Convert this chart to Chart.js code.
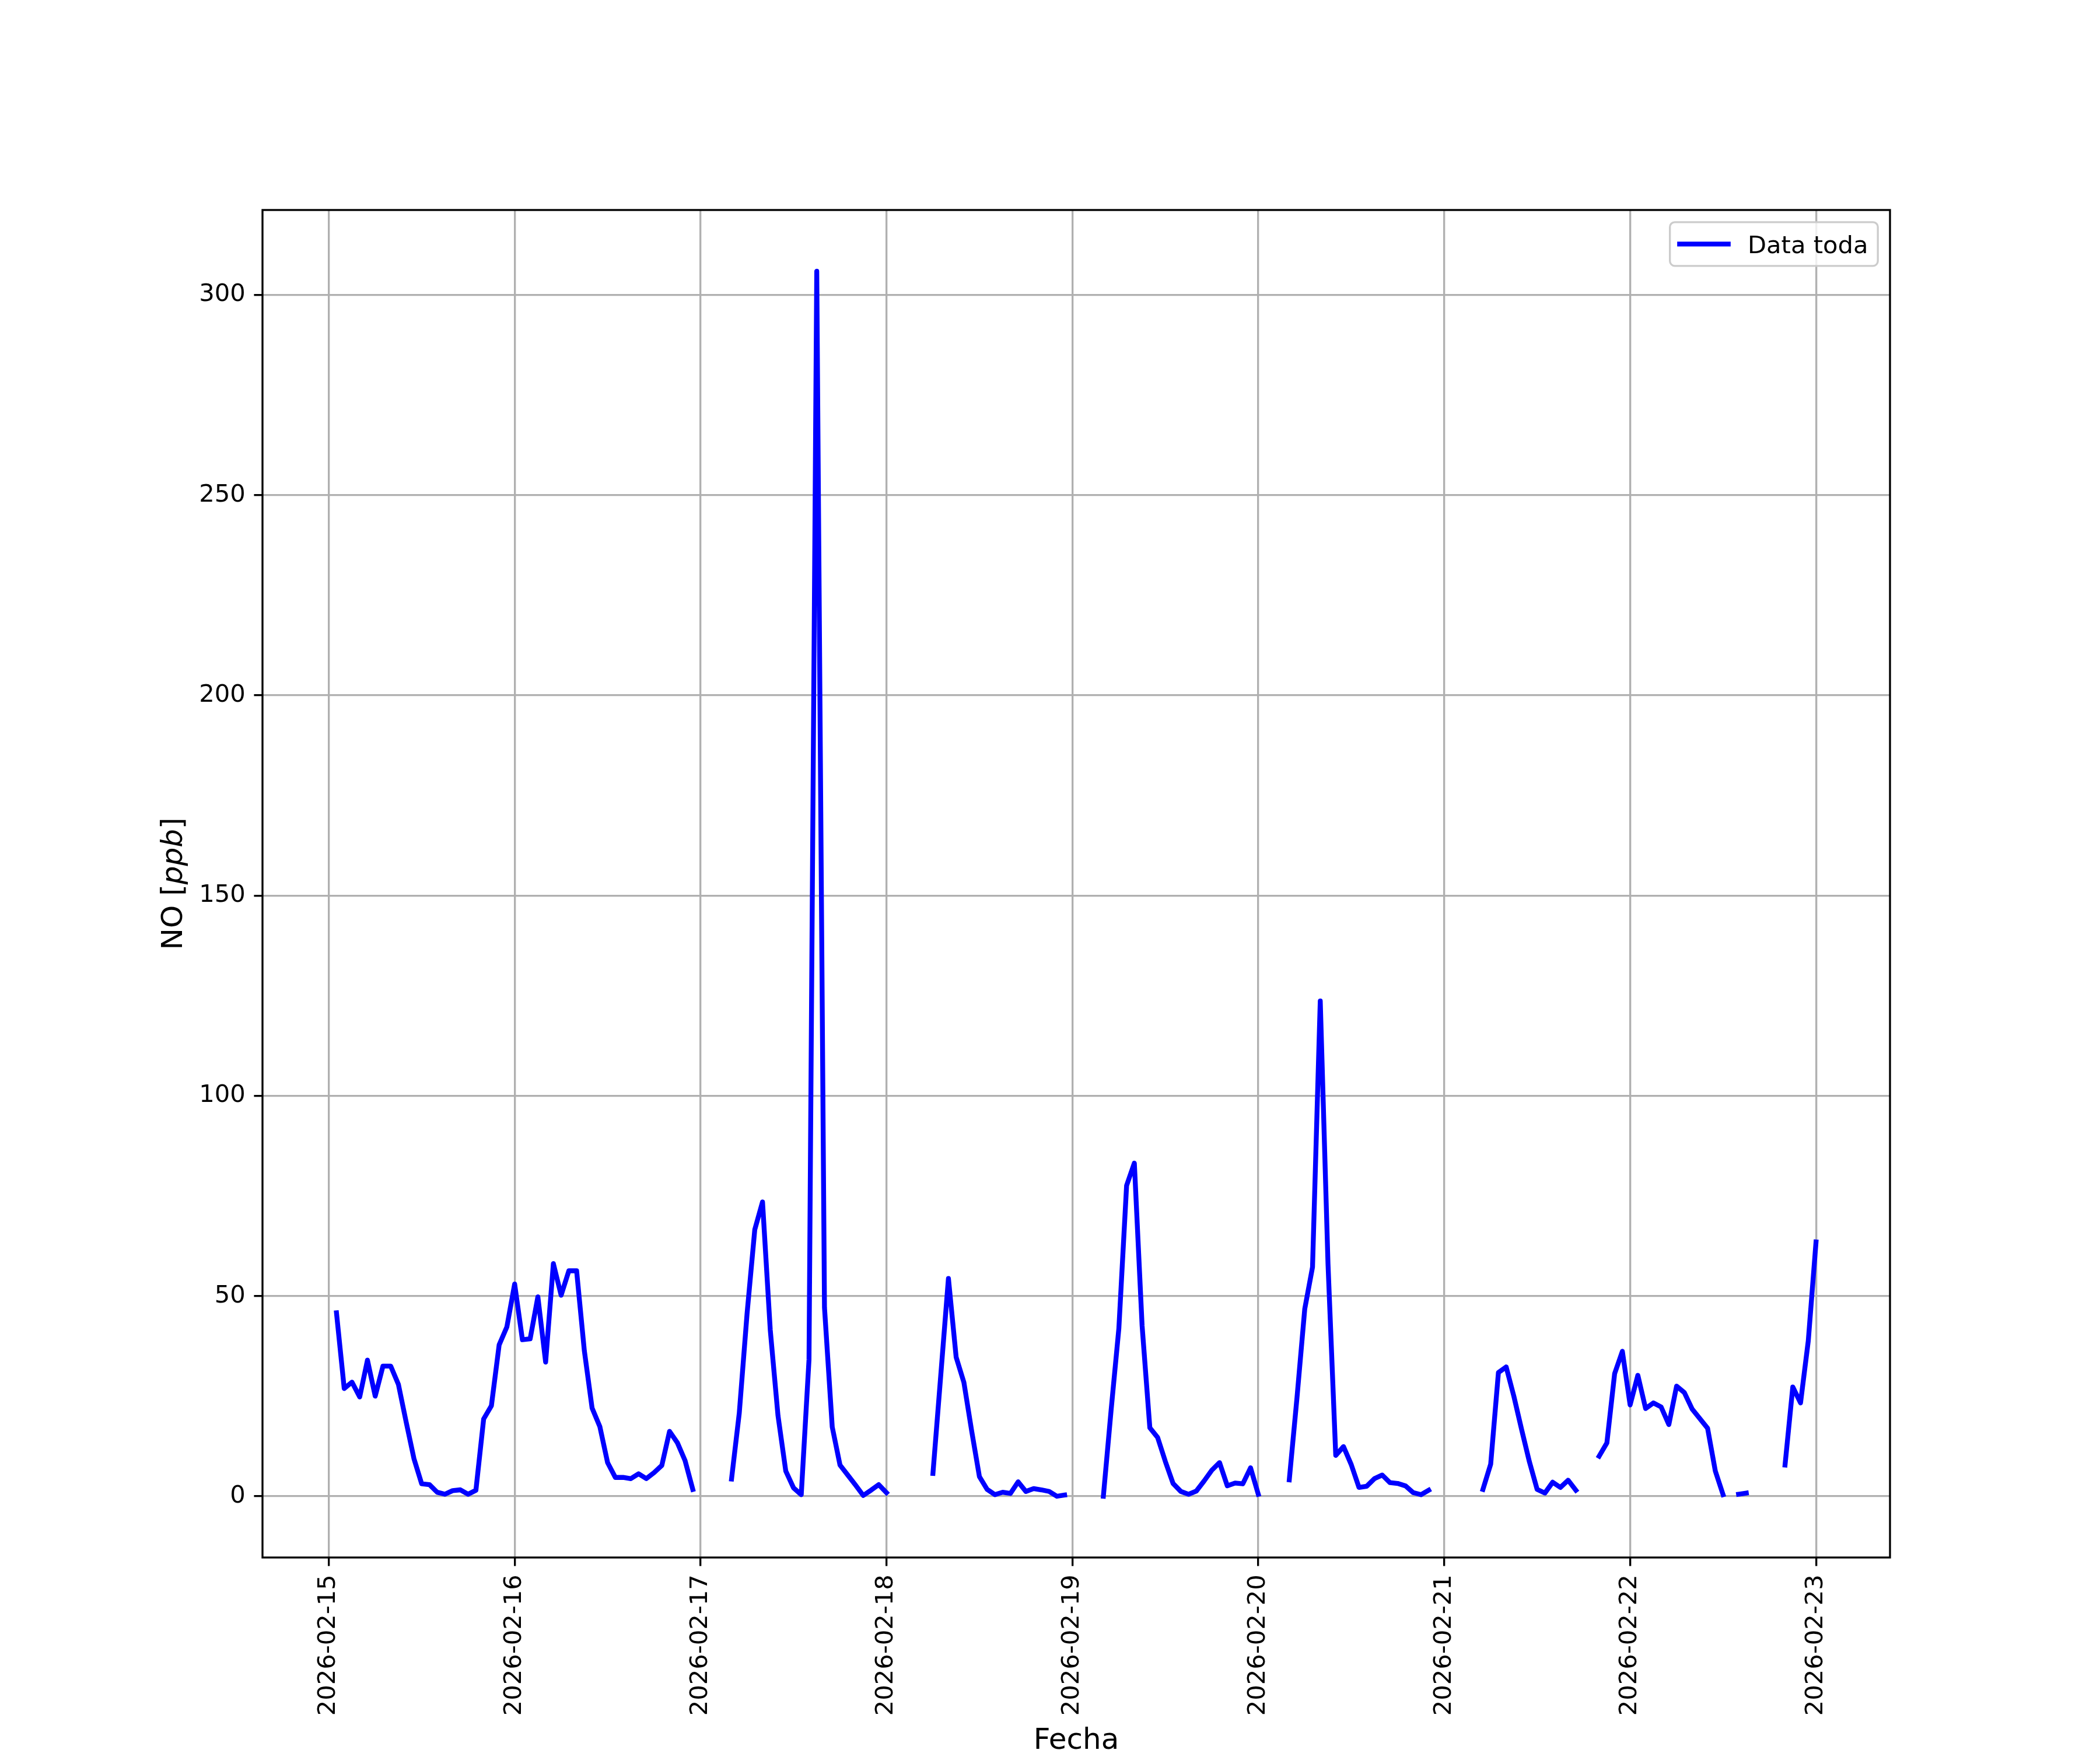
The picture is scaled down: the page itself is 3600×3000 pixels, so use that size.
<!DOCTYPE html>
<html>
<head>
<meta charset="utf-8">
<title>NO [ppb]</title>
<script src="https://cdn.jsdelivr.net/npm/chart.js@4.4.1/dist/chart.umd.min.js"></script>
<style>
  html, body { margin: 0; padding: 0; background: #fff; }
  canvas { display: block; }
</style>
</head>
<body>
<canvas id="chart" width="3600" height="3000"></canvas>
<script>
// tick labels, one per day (midnight)
const dayLabels = ['2026-02-15', '2026-02-16', '2026-02-17', '2026-02-18', '2026-02-19',
                   '2026-02-20', '2026-02-21', '2026-02-22', '2026-02-23'];

// hourly NO values (ppb), 00:00 .. 23:00 each day, null = no data
const day15 = [null, 45.8, 26.9, 28.5, 24.8, 34.0, 25.0, 32.5, 32.5, 27.9, 18.5, 9.4,
               3.1, 2.9, 1.0, 0.5, 1.4, 1.6, 0.5, 1.5, 19.3, 22.6, 37.8, 42.3];
const day16 = [53.0, 39.1, 39.3, 49.8, 33.5, 58.1, 50.2, 56.3, 56.3, 36.3, 22.0, 17.4,
               8.4, 4.7, 4.7, 4.4, 5.6, 4.4, 5.9, 7.7, 16.2, 13.4, 8.9, 1.7];
const day17 = [null, null, null, null, 4.3, 20.8, 45.5, 66.6, 73.5, 41.5, 20.1, 6.3,
               2.1, 0.4, 34.1, 305.9, 47.1, 17.3, 7.8, 5.3, 2.8, 0.2, 1.5, 2.9];
const day18 = [0.9, null, null, null, null, null, 5.7, 30.0, 54.4, 34.7, 28.4, 16.3,
               4.9, 1.7, 0.4, 1.0, 0.7, 3.6, 1.2, 1.9, 1.6, 1.2, 0.0, 0.3];
const day19 = [null, null, null, null, 0.0, 21.5, 41.9, 77.6, 83.2, 42.6, 17.1, 14.7,
               8.7, 3.2, 1.2, 0.5, 1.3, 3.8, 6.5, 8.4, 2.6, 3.3, 3.1, 7.1];
const day20 = [0.5, null, null, null, 4.1, 24.7, 46.8, 57.2, 123.7, 58.0, 10.2, 12.4,
               7.9, 2.2, 2.5, 4.4, 5.3, 3.4, 3.2, 2.6, 0.9, 0.4, 1.5, null];
const day21 = [null, null, null, null, null, 1.7, 8.0, 30.9, 32.3, 24.9, 16.6, 8.6,
               1.7, 0.8, 3.5, 2.2, 4.0, 1.5, null, null, 10.0, 13.3, 30.6, 36.2];
const day22 = [22.8, 30.2, 21.9, 23.3, 22.3, 17.9, 27.5, 25.9, 21.8, 19.4, 17.0, 6.3,
               0.4, null, 0.5, 0.8, null, null, null, null, 7.8, 27.3, 23.3, 38.8];
const day23 = [63.5];

const yTicks = [0, 50, 100, 150, 200, 250, 300];
const seriesLabel = 'Data toda';

const PT = 300 / 72;
const FONT = "'DejaVu Sans', 'Liberation Sans', sans-serif";
const BLUE = '#0000ff';
const LINE_W = 2 * PT;

// x = hours since 2026-02-15 00:00
const hourly = [].concat(day15, day16, day17, day18, day19, day20, day21, day22, day23);
const points = hourly.map((v, i) => ({ x: i, y: v }));
const dayTicks = dayLabels.map((_, i) => i * 24);

// matplotlib style autoscale: data extent plus 5% each side
function margins(vals) {
  const lo = Math.min(...vals), hi = Math.max(...vals), m = (hi - lo) * 0.05;
  return [lo - m, hi + m];
}
const valid = points.filter(p => p.y !== null);
const [xMin, xMax] = margins(valid.map(p => p.x));
const [yMin, yMax] = margins(valid.map(p => p.y));

const gridOpts = {
  color: '#b0b0b0',
  lineWidth: 0.8 * PT,
  tickLength: 3.5 * PT,
  tickColor: '#000',
  tickWidth: 0.8 * PT
};
const tickFont = { family: FONT, size: 10 * PT };

// frame, legend box and y label (with italic unit) drawn over the plot
const decor = {
  id: 'decor',
  afterDraw(chart) {
    const { ctx, chartArea: a } = chart;
    ctx.save();

    // legend, upper right
    const fs = 10 * PT;
    ctx.font = fs + 'px ' + FONT;
    const tw = ctx.measureText(seriesLabel).width;
    const pad = 0.4 * fs, hl = 2 * fs, htp = 0.8 * fs;
    const bw = pad * 2 + hl + htp + tw, bh = pad * 2 + fs;
    const bx = a.right - 0.5 * fs - bw, by = a.top + 0.5 * fs;
    ctx.beginPath();
    ctx.roundRect(bx, by, bw, bh, 0.2 * fs);
    ctx.fillStyle = 'rgba(255,255,255,0.8)';
    ctx.fill();
    ctx.lineWidth = 0.8 * PT;
    ctx.strokeStyle = '#cccccc';
    ctx.stroke();
    const cy = by + bh / 2;
    ctx.beginPath();
    ctx.moveTo(bx + pad, cy);
    ctx.lineTo(bx + pad + hl, cy);
    ctx.lineWidth = LINE_W;
    ctx.lineCap = 'square';
    ctx.strokeStyle = BLUE;
    ctx.stroke();
    ctx.fillStyle = '#000';
    ctx.textBaseline = 'alphabetic';
    ctx.textAlign = 'left';
    ctx.fillText(seriesLabel, bx + pad + hl + htp, cy + 0.729 * fs / 2);

    // axes frame
    ctx.lineCap = 'butt';
    ctx.lineWidth = 0.8 * PT;
    ctx.strokeStyle = '#000';
    ctx.strokeRect(a.left, a.top, a.right - a.left, a.bottom - a.top);

    // y label: NO [ppb] with ppb in italic
    const ls = 12 * PT;
    const parts = [['NO [', ''], ['ppb', 'italic '], [']', '']];
    const widths = parts.map(p => { ctx.font = p[1] + ls + 'px ' + FONT; return ctx.measureText(p[0]).width; });
    const total = widths.reduce((s, w) => s + w, 0);
    ctx.translate(a.left - 138, (a.top + a.bottom) / 2);
    ctx.rotate(-Math.PI / 2);
    let x = -total / 2;
    parts.forEach((p, i) => {
      ctx.font = p[1] + ls + 'px ' + FONT;
      ctx.fillText(p[0], x, 0);
      x += widths[i];
    });
    ctx.restore();
  }
};

new Chart(document.getElementById('chart'), {
  type: 'line',
  data: {
    datasets: [{
      label: seriesLabel,
      data: points,
      borderColor: BLUE,
      backgroundColor: BLUE,
      borderWidth: LINE_W,
      borderCapStyle: 'square',
      borderJoinStyle: 'round',
      pointRadius: 0,
      fill: false,
      tension: 0,
      spanGaps: false
    }]
  },
  options: {
    responsive: false,
    animation: false,
    devicePixelRatio: 1,
    layout: { padding: { left: 200, right: 360, top: 360, bottom: 0 } },
    plugins: { legend: { display: false }, tooltip: { enabled: false } },
    scales: {
      x: {
        type: 'linear',
        min: xMin,
        max: xMax,
        afterBuildTicks: s => { s.ticks = dayTicks.map(v => ({ value: v })); },
        afterFit: s => { s.height = 330; },
        ticks: {
          autoSkip: false,
          minRotation: 90,
          maxRotation: 90,
          padding: 3.5 * PT,
          color: '#000',
          font: tickFont,
          callback: v => dayLabels[Math.round(v / 24)]
        },
        grid: gridOpts,
        border: { display: false },
        title: {
          display: true,
          text: 'Fecha',
          color: '#000',
          font: { family: FONT, size: 12 * PT, lineHeight: 1 },
          padding: { top: 0, bottom: -10 }
        }
      },
      y: {
        type: 'linear',
        min: yMin,
        max: yMax,
        afterBuildTicks: s => { s.ticks = yTicks.map(v => ({ value: v })); },
        afterFit: s => { s.width = 250; },
        ticks: {
          padding: 3.5 * PT,
          color: '#000',
          font: tickFont,
          callback: v => String(v)
        },
        grid: gridOpts,
        border: { display: false }
      }
    }
  },
  plugins: [decor]
});
</script>
</body>
</html>
